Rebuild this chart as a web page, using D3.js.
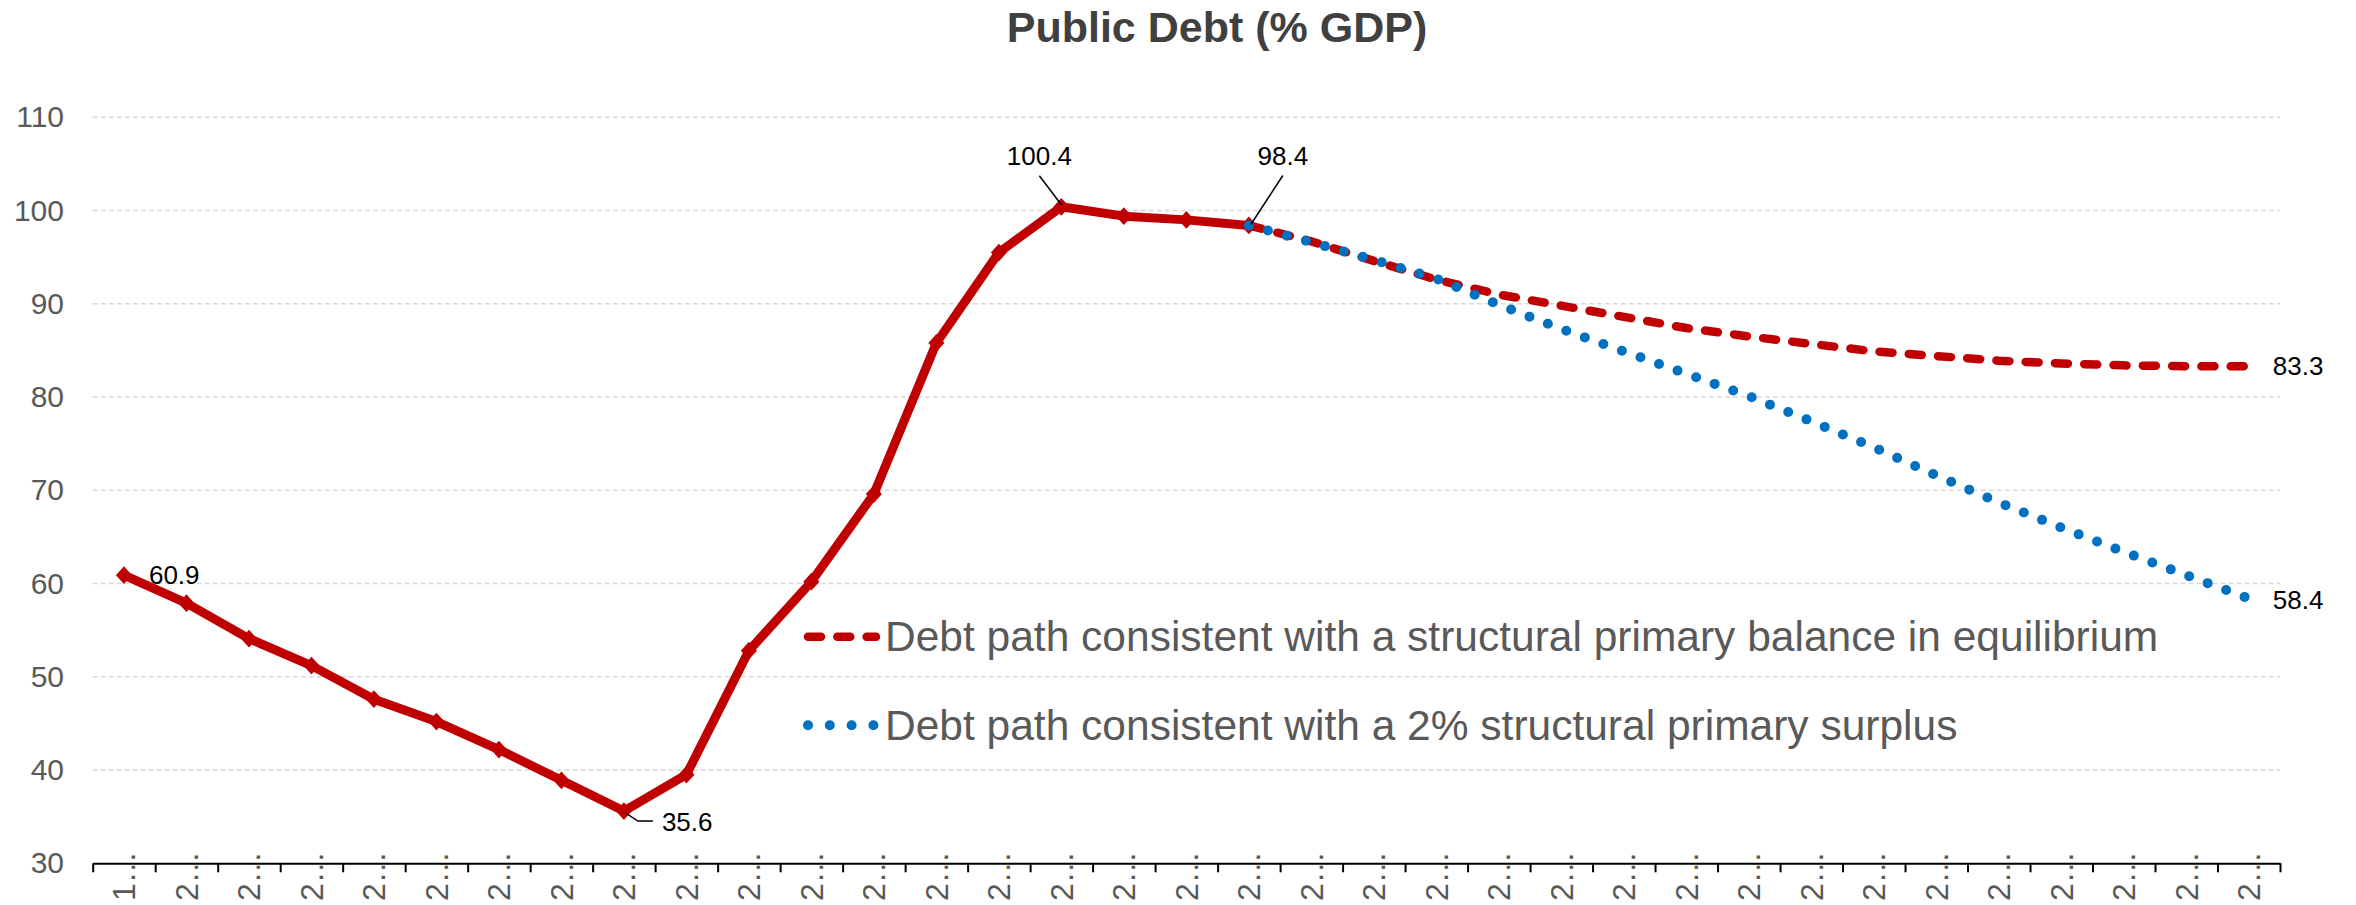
<!DOCTYPE html>
<html>
<head>
<meta charset="utf-8">
<script src="https://cdn.jsdelivr.net/npm/d3@7"></script>
<style>
    body { margin: 0; background: #fff; }
    text { font-family: 'Liberation Sans', Arial, sans-serif; }
</style>
</head>
<body>
<svg id="chart"></svg>
<script>
// category labels as they appear (truncated by the original chart)
var categories = ['1…', '2…', '2…', '2…', '2…', '2…', '2…', '2…', '2…', '2…',
    '2…', '2…', '2…', '2…', '2…', '2…', '2…', '2…', '2…', '2…',
    '2…', '2…', '2…', '2…', '2…', '2…', '2…', '2…', '2…', '2…',
    '2…', '2…', '2…', '2…', '2…'];

// observed debt, categories 0..18
var historical = [60.9, 57.9, 54.1, 51.2, 47.6, 45.2, 42.2, 38.9, 35.6, 39.5,
    52.8, 60.2, 69.6, 85.8, 95.5, 100.4, 99.4, 99.0, 98.4];

// projections, categories 18..34
var projectionStart = 18;
var balancePath = [98.4, 96.7, 94.6, 92.6, 91.0, 89.8, 88.6, 87.4, 86.5, 85.7,
    84.9, 84.4, 83.9, 83.6, 83.4, 83.3, 83.3];
var surplusPath = [98.4, 96.6, 94.7, 92.7, 89.9, 87.3, 84.9, 82.5, 80.1, 77.4,
    74.6, 71.6, 68.7, 66.0, 63.4, 60.9, 58.4];

var yTicks = [30, 40, 50, 60, 70, 80, 90, 100, 110];

var title = 'Public Debt (% GDP)';
var legendLabels = [
    'Debt path consistent with a structural primary balance in equilibrium',
    'Debt path consistent with a 2% structural primary surplus'
];

var width = 2356,
    height = 905;
var margin = { top: 117.3, right: 76, bottom: 41.7, left: 92.7 };

var red = '#c00000',
    blue = '#0070c0';

var svg = d3.select('#chart').attr('width', width).attr('height', height);

var x = d3
    .scaleBand()
    .domain(d3.range(categories.length))
    .range([margin.left, width - margin.right])
    .padding(0);
var xEdge = d3
    .scaleLinear()
    .domain([0, categories.length])
    .range([margin.left, width - margin.right]);
var y = d3
    .scaleLinear()
    .domain([30, 110])
    .range([height - margin.bottom, margin.top]);

function cx(i) {
    return x(i) + x.bandwidth() / 2;
}

var histPts = historical.map(function (v, i) {
    return [i, v];
});
var balancePts = balancePath.map(function (v, i) {
    return [i + projectionStart, v];
});
var surplusPts = surplusPath.map(function (v, i) {
    return [i + projectionStart, v];
});

// title
svg.append('text')
    .attr('x', 1217)
    .attr('y', 42)
    .attr('text-anchor', 'middle')
    .style('font-size', '43px')
    .style('font-weight', 'bold')
    .style('fill', '#404040')
    .text(title);

// gridlines
svg.append('g')
    .selectAll('line')
    .data(yTicks.filter(function (d) { return d > 30; }))
    .enter()
    .append('line')
    .attr('x1', margin.left)
    .attr('x2', width - margin.right)
    .attr('y1', function (d) { return y(d); })
    .attr('y2', function (d) { return y(d); })
    .attr('stroke', '#d9d9d9')
    .attr('stroke-width', 1.5)
    .attr('stroke-dasharray', '5,3');

// y labels
var yAxis = svg.append('g')
    .attr('transform', 'translate(64,0)')
    .call(d3.axisLeft(y).tickValues(yTicks).tickSize(0).tickPadding(0));
yAxis.select('.domain').remove();
yAxis.selectAll('text')
    .style('font-size', '30px')
    .style('fill', '#595959')
    .style('font-family', "'Liberation Sans', Arial, sans-serif");

// x axis line and ticks at band edges
var xAxis = svg.append('g')
    .attr('transform', 'translate(0,' + y(30) + ')')
    .call(d3.axisBottom(xEdge)
        .tickValues(d3.range(categories.length + 1))
        .tickSize(9)
        .tickSizeOuter(0)
        .tickFormat(''));
xAxis.select('.domain').attr('stroke', '#000').attr('stroke-width', 2);
xAxis.selectAll('.tick line').attr('stroke', '#000').attr('stroke-width', 2);

// x labels, rotated
svg.append('g')
    .selectAll('text')
    .data(categories)
    .enter()
    .append('text')
    .attr('transform', function (d, i) {
        return 'translate(' + cx(i) + ',901) rotate(-90)';
    })
    .attr('dy', '0.36em')
    .attr('text-anchor', 'start')
    .style('font-size', '32px')
    .style('fill', '#595959')
    .text(function (d) { return d; });

var line = d3
    .line()
    .x(function (d) { return cx(d[0]); })
    .y(function (d) { return y(d[1]); });

// historical solid line
svg.append('path')
    .attr('d', line(histPts))
    .attr('fill', 'none')
    .attr('stroke', red)
    .attr('stroke-width', 9)
    .attr('stroke-linejoin', 'round');

// diamonds
var diamond = {
    draw: function (ctx, size) {
        var r = Math.sqrt(size) / 2;
        ctx.moveTo(0, -r * 1.1);
        ctx.lineTo(r, 0);
        ctx.lineTo(0, r * 1.1);
        ctx.lineTo(-r, 0);
        ctx.closePath();
    }
};
svg.append('g')
    .selectAll('path')
    .data(histPts)
    .enter()
    .append('path')
    .attr('transform', function (d) {
        return 'translate(' + cx(d[0]) + ',' + y(d[1]) + ')';
    })
    .attr('d', d3.symbol().type(diamond).size(260))
    .attr('fill', red);

// projection: balanced
svg.append('path')
    .attr('d', line(balancePts))
    .attr('fill', 'none')
    .attr('stroke', red)
    .attr('stroke-width', 8.5)
    .attr('stroke-linecap', 'round')
    .attr('stroke-dasharray', '13,16.3');

// projection: surplus
svg.append('path')
    .attr('d', line(surplusPts))
    .attr('fill', 'none')
    .attr('stroke', blue)
    .attr('stroke-width', 10)
    .attr('stroke-linecap', 'round')
    .attr('stroke-dasharray', '0,19.7');

// data labels
var labels = [
    { pts: histPts, i: 0, dx: 25, dy: 9, anchor: 'start' },
    { pts: histPts, i: 8, dx: 38, dy: 20, anchor: 'start', leader: [[2, 2], [14, 10], [29, 10]] },
    { pts: histPts, i: 15, dx: -22, dy: -42, anchor: 'middle', leader: [[-22, -31], [0, -2]] },
    { pts: histPts, i: 18, dx: 34, dy: -60, anchor: 'middle', leader: [[34, -50], [2, -1]] },
    { pts: balancePts, i: balancePts.length - 1, dx: 24, dy: 9, anchor: 'start' },
    { pts: surplusPts, i: surplusPts.length - 1, dx: 24, dy: 11, anchor: 'start' }
];
var lbl = svg.append('g');
labels.forEach(function (l) {
    var p = l.pts[l.i];
    var px = cx(p[0]),
        py = y(p[1]);
    if (l.leader) {
        lbl.append('path')
            .attr('d', d3.line()(l.leader.map(function (o) { return [px + o[0], py + o[1]]; })))
            .attr('fill', 'none')
            .attr('stroke', '#000')
            .attr('stroke-width', 1.5);
    }
    lbl.append('text')
        .attr('x', px + l.dx)
        .attr('y', py + l.dy)
        .attr('text-anchor', l.anchor)
        .style('font-size', '26px')
        .style('fill', '#000')
        .text(p[1].toFixed(1));
});

// legend
var legend = svg.append('g');
var legendStyles = [
    { color: red, width: 8.5, dash: '13,16.3' },
    { color: blue, width: 10, dash: '0,21.8' }
];
legendLabels.forEach(function (t, k) {
    var ly = 636.7 + k * 88.5;
    legend.append('line')
        .attr('x1', 808)
        .attr('x2', 876)
        .attr('y1', ly)
        .attr('y2', ly)
        .attr('stroke', legendStyles[k].color)
        .attr('stroke-width', legendStyles[k].width)
        .attr('stroke-linecap', 'round')
        .attr('stroke-dasharray', legendStyles[k].dash);
    legend.append('text')
        .attr('x', 885)
        .attr('y', ly + 14.5)
        .style('font-size', '42.5px')
        .style('fill', '#595959')
        .text(t);
});
</script>
</body>
</html>
